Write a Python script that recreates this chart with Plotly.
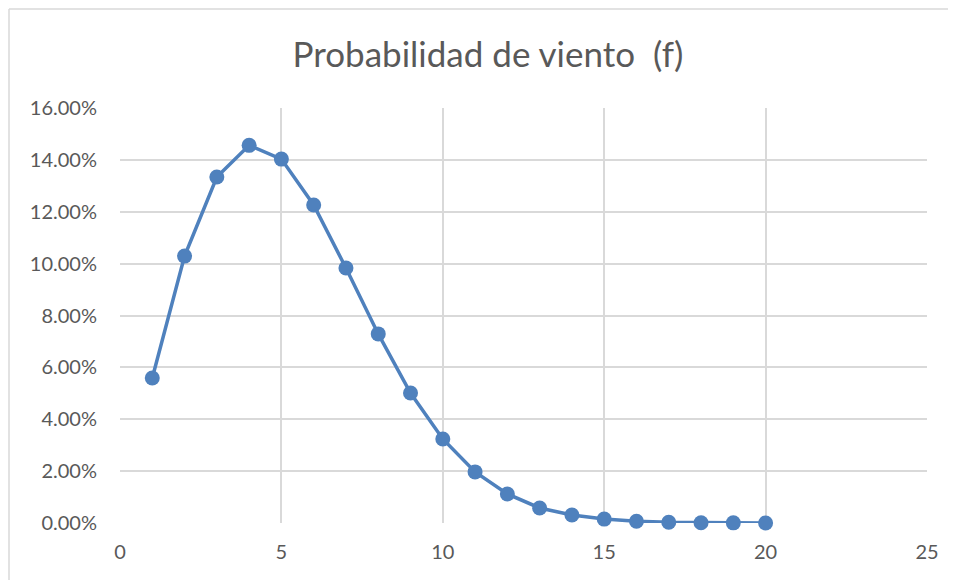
import plotly.graph_objects as go

speed = [1, 2, 3, 4, 5, 6, 7, 8, 9, 10, 11, 12, 13, 14, 15, 16, 17, 18, 19, 20]
prob = [0.0559, 0.1029, 0.1334, 0.1456, 0.1403, 0.1226, 0.0983, 0.0729, 0.0501,
        0.0324, 0.0197, 0.0112, 0.0058, 0.0031, 0.0015, 0.0007, 0.0003, 0.0001,
        0.00005, 0.00002]

x_ticks = [0, 5, 10, 15, 20, 25]
y_ticks = [0, 0.02, 0.04, 0.06, 0.08, 0.10, 0.12, 0.14, 0.16]

# page body adds an 8px offset; figure sized to fit inside the 956x580 window
OFF = 8
W, H = 956 - OFF, 580 - OFF
L, T = 120 - OFF, 108 - OFF
R, B = W - (927 - OFF), H - (523 - OFF)
pw, ph = W - L - R, H - T - B

def px_x(p):
    return (p - OFF - L) / pw

def px_y(p):
    return (H - B - (p - OFF)) / ph

fig = go.Figure()
fig.add_trace(go.Scatter(
    x=speed, y=prob, mode="lines+markers",
    line=dict(color="#4F81BD", width=3.5),
    marker=dict(color="#4F81BD", size=15),
    showlegend=False, cliponaxis=False,
))

font = "Lato, 'Noto Sans', sans-serif"
border = dict(color="#D9D9D9", width=1.5)
fig.update_layout(
    width=W, height=H,
    margin=dict(l=L, r=R, t=T, b=B),
    paper_bgcolor="white", plot_bgcolor="white",
    title=dict(text="Probabilidad de viento  (f)", xref="container",
               x=(488 - OFF) / W, xanchor="center",
               y=1 - (55 - OFF) / H, yanchor="middle",
               font=dict(family=font, size=35, color="#595959")),
    font=dict(family=font, color="#595959"),
    xaxis=dict(range=[0, 25], tickvals=x_ticks, showgrid=True, gridcolor="#D9D9D9",
               gridwidth=1.5, zeroline=False, showline=False, ticks="",
               tickfont=dict(size=20, color="#595959"), ticklabelstandoff=15),
    yaxis=dict(range=[0, 0.16], tickvals=y_ticks, tickformat=".2%", showgrid=True,
               gridcolor="#D9D9D9", gridwidth=1.5, zeroline=False, showline=False,
               ticks="", tickfont=dict(size=20, color="#595959"), ticklabelstandoff=22),
    shapes=[
        dict(type="line", xref="paper", yref="paper",
             x0=px_x(9), x1=px_x(9), y0=px_y(600), y1=px_y(9), line=border, layer="below"),
        dict(type="line", xref="paper", yref="paper",
             x0=px_x(9), x1=px_x(1000), y0=px_y(9), y1=px_y(9), line=border, layer="below"),
    ],
)

fig.write_html("out.html")
